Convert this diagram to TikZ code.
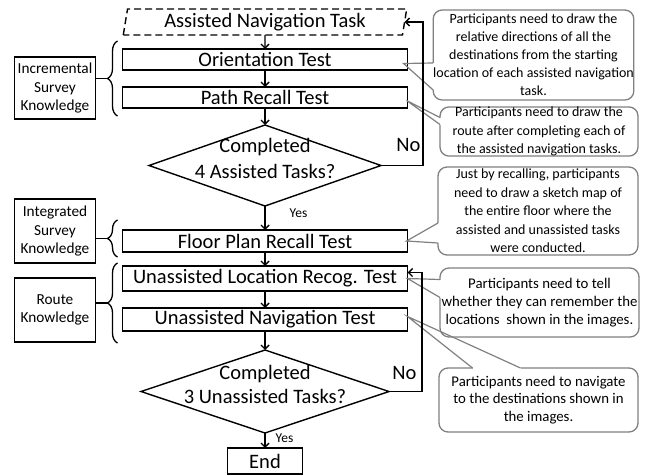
\documentclass[tikz,border=0pt]{standalone}
\usepackage{fontspec}
\setmainfont{Carlito}
\usetikzlibrary{arrows.meta,positioning,shapes.geometric,decorations.pathreplacing}
\tikzset{
  stage/.style={draw, line width=1.4pt, minimum width=285pt, minimum height=21pt, inner sep=0pt, outer sep=0pt, font=\fontsize{20.5}{24}\selectfont},
  navtask/.style={stage, trapezium, trapezium left angle=80, trapezium right angle=100, trapezium stretches=true, dash pattern=on 7pt off 4pt, minimum width=284pt, minimum height=26pt},
  check/.style={diamond, draw, line width=1.4pt, inner sep=0pt, outer sep=0pt, minimum width=232pt, minimum height=81pt},
  checktext/.style={align=center, inner sep=0pt, yshift=7pt},
  kbox/.style={draw, line width=1.3pt, minimum width=81pt, minimum height=64pt, inner sep=0pt, outer sep=0pt, align=center, font=\fontsize{15.3}{18.5}\selectfont},
  kbrace/.style={decorate, decoration={brace, amplitude=10pt}, line width=1.3pt},
  kstem/.style={line width=1.3pt},
  note/.style={draw=black!50, line width=1.3pt, rounded corners=9pt, inner sep=0pt, outer sep=0pt, align=center, font=\fontsize{14}{18.5}\selectfont},
  pointer/.style={draw=black!50, line width=1.2pt},
  gap/.style={draw=white, line width=2.4pt},
  flow/.style={-{Straight Barb[length=4pt,width=8pt]}, line width=1.4pt},
  answer/.style={font=\fontsize{13.5}{15}\selectfont, inner sep=0pt},
  nolabel/.style={font=\fontsize{20.5}{24}\selectfont, inner sep=0pt, anchor=south east}
}

\begin{document}
\begin{tikzpicture}[x=1pt, y=-1pt]
  \useasboundingbox (0,0) rectangle (649,475);

  % main flow
  \node[navtask] (task) at (265,22) {Assisted Navigation Task};
  \node[stage, below=14pt of task] (otest) {Orientation Test};
  \node[stage, below=17pt of otest] (prtest) {Path Recall Test};
  \node[check, below=17pt of prtest, label={[checktext, font=\fontsize{20.5}{26.5}\selectfont]center:{Completed\\4 Assisted Tasks?}}] (d1) {};
  \node[stage, below=24pt of d1, minimum height=22pt] (fptest) {Floor Plan Recall Test};
  \node[stage, below=14pt of fptest, minimum height=25pt] (ulr) {Unassisted Location Recog. Test};
  \node[stage, below=17pt of ulr, minimum height=23pt] (un) {Unassisted Navigation Test};
  \node[check, below=19pt of un, minimum width=248pt, minimum height=83pt, label={[checktext, font=\fontsize{20.5}{23.5}\selectfont]center:{Completed\\3 Unassisted Tasks?}}] (d2) {};
  \node[stage, below=15pt of d2, minimum width=75pt, minimum height=26pt] (finish) {End};

  % knowledge types
  \node[kbox, minimum height=62pt] (isk) at (55,88) {Incremental\\Survey\\Knowledge};
  \node[kbox] (iss) at (55,231) {Integrated\\Survey\\Knowledge};
  \node[kbox] (rk) at (55,310) {Route\\Knowledge};

  \draw[kbrace] ([xshift=-5pt,yshift=-8pt]prtest.south west) -- coordinate[midway] (b1) ([xshift=-5pt,yshift=8pt]otest.north west);
  \draw[kbrace] ([xshift=-5pt,yshift=-5pt]fptest.south west) -- coordinate[midway] (b2) ([xshift=-5pt,yshift=10pt]fptest.north west);
  \draw[kbrace] ([xshift=-5pt,yshift=-12pt]un.south west) -- coordinate[midway] (b3) ([xshift=-5pt,yshift=3pt]ulr.north west);
  \draw[kstem] ([xshift=-10pt]b1) -- (isk.east |- b1);
  \draw[kstem] ([xshift=-10pt]b2) -- (iss.east |- b2);
  \draw[kstem] ([xshift=-10pt]b3) -- (rk.east |- b3);

  % callouts
  \node[note, minimum width=197pt, minimum height=90pt, font=\fontsize{14}{18}\selectfont] (c1) at (533.5,55) {Participants need to draw the\\relative directions of all the\\destinations from the starting\\location of each assisted navigation\\task.};
  \node[note, minimum width=198pt, minimum height=47pt] (c2) at (539,131.5) {Participants need to draw the\\route after completing each of\\the assisted navigation tasks.};
  \node[note, minimum width=200pt, minimum height=88pt] (c3) at (538,211) {Just by recalling, participants\\need to draw a sketch map of\\the entire floor where the\\assisted and unassisted tasks\\were conducted.};
  \node[note, minimum width=199pt, minimum height=69pt, font=\fontsize{14.8}{18.3}\selectfont] (c4) at (539.5,302.5) {Participants need to tell\\whether they can remember the\\locations\ \ shown in the images.};
  \node[note, minimum width=199pt, minimum height=64pt, font=\fontsize{14.8}{17.5}\selectfont] (c5) at (538.5,400) {Participants need to navigate\\to the destinations shown in\\the images.};

  \draw[gap] ([yshift=-8pt]c1.west) -- ([yshift=-35pt]c1.west);
  \draw[pointer] ([yshift=-8pt]c1.west) -- ([xshift=-4pt,yshift=-4pt]otest.east) -- ([yshift=-35pt]c1.west);
  \draw[gap] ([yshift=14pt]c2.west) -- ([yshift=7pt]c2.west);
  \draw[pointer] ([yshift=14pt]c2.west) -- ([xshift=-1pt,yshift=-3pt]prtest.east) -- ([yshift=7pt]c2.west);
  \draw[gap] ([yshift=-12pt]c3.west) -- ([yshift=-32pt]c3.west);
  \draw[pointer] ([yshift=-12pt]c3.west) -- ([xshift=-1pt]fptest.east) -- ([yshift=-32pt]c3.west);
  \draw[gap] ([yshift=23pt]c4.west) -- ([yshift=5pt]c4.west);
  \draw[pointer] ([yshift=23pt]c4.west) -- (ulr.east) -- ([yshift=5pt]c4.west);
  \draw[gap] ([xshift=-66pt]c5.north) -- ([xshift=-18pt]c5.north);
  \draw[pointer] ([xshift=-66pt]c5.north) -- ([yshift=3pt]un.east) -- ([xshift=-18pt]c5.north);

  % connectors
  \draw[flow] (task) -- (otest);
  \draw[flow] (otest) -- (prtest);
  \draw[flow] (prtest) -- (d1);
  \draw[flow] (d1) -- node[answer, pos=0.3, right=24pt] {Yes} (fptest);
  \draw[flow] (fptest) -- (ulr);
  \draw[flow] (ulr) -- (un);
  \draw[flow] (un) -- (d2);
  \draw[flow] (d2) -- node[answer, pos=0.35, right=10pt] {Yes} (finish);
  \draw[flow] (d1.east) -- ++(42,0) node[nolabel, xshift=-2pt, yshift=13pt] {No} |- (task.east);
  \draw[flow] (d2.east) -- ++(33,0) node[nolabel, xshift=-5pt, yshift=11pt] {No} |- ([yshift=6pt]ulr.east);
\end{tikzpicture}
\end{document}
